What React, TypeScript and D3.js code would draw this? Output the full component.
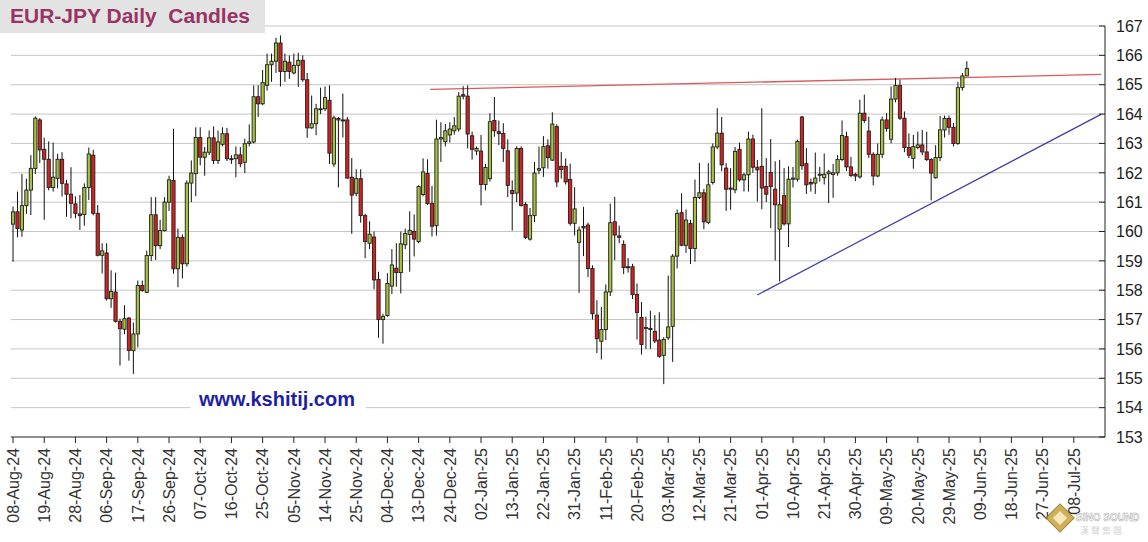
import React from "react";
import * as d3 from "d3";

// ---- Data (daily OHLC, one candle per weekday starting 08-Aug-24) ----
const opens = [
  160.25,160.67,160.05,160.88,161.41,162.15,163.80,162.80,162.46,161.50,
  161.81,162.46,161.62,161.27,160.94,160.60,160.58,161.50,162.60,160.62,
  159.19,159.27,157.71,157.94,156.94,156.67,157.05,155.94,156.51,158.16,
  157.93,159.18,160.57,159.52,160.03,161.00,161.74,158.73,159.80,158.90,
  161.65,161.97,163.20,162.53,162.70,163.19,162.42,162.97,163.33,162.48,
  162.48,162.61,162.36,163.00,163.05,164.59,164.35,164.98,165.68,165.80,
  166.42,165.45,165.77,165.40,165.66,165.83,165.17,163.53,163.67,164.18,
  164.18,164.47,162.30,163.85,163.80,163.80,161.85,161.30,161.80,160.54,
  159.60,159.81,158.37,157.00,157.14,158.14,158.75,158.60,159.55,159.90,
  160.00,159.66,161.26,161.98,160.95,160.20,163.15,163.06,163.29,163.43,
  163.49,164.66,164.61,163.26,162.74,162.74,161.60,161.80,163.78,163.40,
  163.34,162.75,161.40,161.31,162.83,160.92,159.74,160.54,162.09,162.17,
  162.92,162.43,163.57,162.22,162.22,161.77,160.28,159.63,160.17,160.22,
  158.74,157.15,156.26,156.66,157.94,160.33,159.85,159.56,158.80,158.80,
  157.85,157.07,156.70,156.70,156.60,156.30,155.78,156.38,156.77,159.16,
  160.64,159.53,160.27,159.42,161.16,161.32,160.31,161.67,162.88,163.35,
  162.16,161.48,161.42,162.80,161.76,161.93,163.15,162.19,162.22,161.53,
  162.01,161.44,160.08,161.22,160.26,161.78,161.78,163.90,162.31,161.67,
  161.65,161.93,161.83,161.97,161.94,162.00,162.45,163.23,162.20,161.95,
  161.86,164.03,163.42,162.63,161.89,162.63,163.80,163.14,164.51,164.97,
  163.86,162.86,162.49,162.86,162.95,162.71,162.45,161.83,162.52,
  163.46,163.85,163.55,163.00,164.90,165.30,
];
const highs = [
  160.85,161.36,161.96,161.80,162.60,163.92,163.86,163.20,163.07,163.03,
  162.65,162.70,161.76,162.19,161.20,161.24,161.64,162.86,162.78,160.90,
  159.60,159.60,158.68,158.60,157.03,157.49,157.09,156.90,158.33,158.33,
  159.35,161.17,161.17,160.40,161.17,161.90,163.50,160.10,159.90,161.74,
  162.42,163.55,163.55,162.88,163.44,163.58,163.44,163.55,163.53,162.60,
  162.90,162.88,163.16,163.65,164.98,164.98,165.50,166.06,166.06,166.60,
  166.68,166.06,166.00,166.06,166.09,166.00,165.40,164.63,164.35,164.90,
  164.94,164.98,163.95,163.90,164.70,163.90,162.50,162.12,162.12,160.60,
  160.35,160.00,158.63,157.20,158.58,159.40,159.60,160.00,160.10,160.69,
  160.58,161.57,162.49,162.46,161.55,163.81,163.72,163.66,163.72,163.90,
  164.75,164.95,164.98,163.40,162.90,163.29,162.30,164.03,164.58,163.78,
  163.69,163.14,161.74,162.90,162.90,161.00,160.80,162.37,162.89,163.25,
  163.14,164.06,163.65,162.71,162.49,162.31,161.51,160.17,160.84,160.30,
  158.85,157.66,157.43,158.20,160.95,161.18,160.20,159.70,159.10,158.90,
  158.23,157.60,157.10,157.30,157.15,157.25,156.40,158.50,159.23,160.75,
  161.30,160.75,160.40,161.77,162.34,161.45,162.33,163.00,164.20,163.90,
  162.33,162.16,162.88,163.03,162.00,163.40,163.30,162.44,164.20,162.50,
  163.15,162.39,162.44,162.16,162.22,162.20,163.13,163.94,162.84,161.80,
  162.69,162.20,162.66,162.10,162.30,162.60,163.78,163.40,162.54,162.00,
  164.49,164.66,163.91,162.70,163.00,163.91,164.03,164.94,165.23,165.17,
  164.09,163.34,163.29,163.40,163.46,163.40,162.50,162.94,163.94,
  163.95,163.95,163.70,165.10,165.40,165.80,
];
const lows = [
  158.97,159.80,159.82,160.60,160.56,161.96,162.33,160.40,161.40,161.36,
  161.47,161.19,160.50,160.45,160.45,160.05,160.20,161.07,160.55,159.15,
  158.57,157.65,157.40,156.90,155.43,156.50,155.60,155.15,156.05,157.95,
  157.90,159.00,159.03,159.40,160.00,160.70,158.56,158.10,158.40,158.80,
  161.00,161.20,162.25,161.90,162.60,162.30,162.30,162.90,162.40,162.30,
  161.85,162.19,161.99,162.90,163.00,163.90,164.30,164.80,165.10,165.40,
  164.94,165.10,165.20,165.35,164.93,165.10,163.19,163.50,163.28,164.00,
  164.10,162.30,162.20,161.50,163.20,161.80,159.92,161.20,160.30,159.09,
  159.40,158.03,156.38,156.18,157.10,157.87,158.12,157.89,159.40,158.63,
  159.15,159.60,161.20,160.90,159.83,159.86,162.37,162.90,163.03,163.30,
  163.40,164.50,162.83,162.45,162.60,160.89,161.40,161.70,163.23,162.94,
  162.37,161.17,160.03,161.00,160.85,159.74,159.69,160.32,161.95,161.86,
  162.14,162.40,161.51,161.80,161.60,160.20,159.86,157.91,159.16,158.45,
  157.00,155.86,155.64,156.30,157.80,159.02,159.60,158.55,158.60,157.70,
  156.32,155.81,156.00,156.00,156.20,155.70,154.80,156.30,155.56,158.74,
  159.50,159.27,158.89,158.97,161.10,160.08,160.25,161.60,162.80,162.05,
  160.70,160.74,161.30,161.70,161.36,161.36,162.00,161.02,160.76,161.00,
  160.11,159.01,158.30,160.20,159.47,161.50,161.70,162.10,161.28,161.36,
  161.28,161.70,161.60,160.97,161.15,161.90,162.40,162.06,161.85,161.72,
  161.80,163.70,162.50,161.57,161.85,162.50,163.40,163.00,164.40,163.80,
  162.70,162.50,162.14,162.80,162.60,162.40,161.06,161.80,162.40,
  163.20,163.30,162.90,162.95,164.80,165.30,
];
const closes = [
  160.67,160.10,160.88,161.41,162.15,163.86,162.78,162.46,161.50,161.85,
  162.46,161.64,161.27,160.96,160.62,160.54,161.50,162.64,160.62,159.19,
  159.34,157.71,157.96,156.94,156.69,157.03,155.95,156.51,158.16,157.99,
  159.18,160.57,159.52,160.03,161.00,161.76,158.73,159.80,158.90,161.65,
  161.99,163.20,162.53,162.70,163.19,162.42,163.05,163.33,162.48,162.45,
  162.61,162.31,162.99,163.05,164.59,164.35,165.07,165.68,165.80,166.42,
  165.45,165.80,165.45,165.66,165.83,165.17,163.53,163.67,164.18,164.15,
  164.56,162.67,163.87,163.80,163.77,161.82,161.24,161.80,160.54,159.66,
  159.91,158.35,157.00,157.11,158.23,158.86,158.60,159.58,159.93,160.04,
  159.74,161.53,162.03,160.95,160.18,163.15,163.20,163.43,163.49,163.60,
  164.61,164.61,163.32,162.80,162.83,161.60,162.18,163.74,163.43,163.34,
  162.83,161.57,161.29,162.83,160.89,159.80,160.54,161.99,162.14,162.89,
  162.52,163.66,161.69,162.11,161.69,160.28,160.77,160.05,160.12,158.74,
  157.20,156.35,156.66,157.94,160.30,159.88,159.80,158.77,158.77,157.85,
  157.24,156.15,156.73,156.66,156.27,155.75,156.32,156.75,159.16,160.61,
  159.53,160.39,159.42,161.16,161.32,160.33,161.59,162.88,163.35,162.27,
  161.44,161.44,162.73,161.76,161.93,163.15,162.19,162.10,161.48,161.27,
  161.53,160.91,160.91,160.26,161.78,161.82,163.07,162.24,161.59,161.62,
  161.82,161.95,161.95,162.03,162.00,162.45,163.27,162.20,161.91,161.89,
  164.03,163.78,162.63,161.89,162.63,163.80,163.51,164.51,164.97,163.86,
  162.86,162.60,162.89,162.95,162.71,162.45,161.99,162.52,163.46,
  163.85,163.55,163.00,164.90,165.30,165.55,
];

// tick labels, one every 7 weekdays
const tickLabels = [
  "08-Aug-24","19-Aug-24","28-Aug-24","06-Sep-24","17-Sep-24","26-Sep-24",
  "07-Oct-24","16-Oct-24","25-Oct-24","05-Nov-24","14-Nov-24","25-Nov-24",
  "04-Dec-24","13-Dec-24","24-Dec-24","02-Jan-25","13-Jan-25","22-Jan-25",
  "31-Jan-25","11-Feb-25","20-Feb-25","03-Mar-25","12-Mar-25","21-Mar-25",
  "01-Apr-25","10-Apr-25","21-Apr-25","30-Apr-25","09-May-25","20-May-25",
  "29-May-25","09-Jun-25","18-Jun-25","27-Jun-25","08-Jul-25",
];
const tickStep = 7;
const yTicks = [153,154,155,156,157,158,159,160,161,162,163,164,165,166,167];

// trend lines (weekday index, price)
const resistanceLine = [{ i: 93.6, v: 164.84 }, { i: 244.1, v: 165.35 }];
const supportLine = [{ i: 167, v: 157.84 }, { i: 244.1, v: 163.99 }];

const FONT = "'Liberation Sans', Arial, Helvetica, sans-serif";

export default function App() {
  const W = 1148, H = 542;
  const x = d3.scaleLinear().domain([-0.5, 245]).range([10.8, 1105]);
  const y = d3.scaleLinear().domain([153, 167]).range([437, 26]);
  const xLeft = x(-0.5), xRight = x(245);
  const bodyW = 3.2;
  const line = d3.line<{ i: number; v: number }>().x(d => x(d.i)).y(d => y(d.v));

  const candles = opens.map((o, i) => ({ i, o, h: highs[i], l: lows[i], c: closes[i] }));

  return (
    <svg width={W} height={H} style={{ position: "absolute", left: 0, top: 0, background: "#fff" }}
      fontFamily={FONT}>
      <rect x={0} y={0} width={W} height={H} fill="#fff" />
      {/* grid */}
      {yTicks.slice(1).map(t => (
        <line key={t} x1={xLeft} x2={xRight} y1={y(t)} y2={y(t)} stroke="#c6c6c6" strokeWidth={1} />
      ))}
      {/* website */}
      <rect x={190} y={386} width={176} height={26} fill="#fff" />
      <text x={199} y={406} fontSize={20} fontWeight="bold" fill="#1e1ea6">www.kshitij.com</text>

      {/* trend lines */}
      <path d={line(resistanceLine) || ""} stroke="#dc5a5a" strokeWidth={1.3} fill="none" />
      <path d={line(supportLine) || ""} stroke="#3c3ca8" strokeWidth={1.2} fill="none" />

      {/* candles */}
      {candles.map(d => {
        const up = d.c >= d.o;
        const cx = x(d.i);
        const top = y(Math.max(d.o, d.c));
        const bot = y(Math.min(d.o, d.c));
        return (
          <g key={d.i}>
            <line x1={cx} x2={cx} y1={y(d.h)} y2={y(d.l)} stroke="#111" strokeWidth={1} />
            <rect x={cx - bodyW / 2} y={top} width={bodyW} height={Math.max(bot - top, 1)}
              fill={up ? "#a6c23e" : "#d92020"} stroke="#1e1e1e" strokeWidth={0.9} />
          </g>
        );
      })}

      {/* axes */}
      <line x1={xRight} x2={xRight} y1={y(167)} y2={y(153)} stroke="#222" strokeWidth={1} />
      <line x1={xLeft} x2={xRight} y1={y(153)} y2={y(153)} stroke="#222" strokeWidth={1} />
      {yTicks.map(t => (
        <g key={t}>
          <line x1={xRight - 6} x2={xRight} y1={y(t)} y2={y(t)} stroke="#222" />
          <text x={xRight + 11} y={y(t)} dy="0.36em" fontSize={16} fill="#222">{t}</text>
        </g>
      ))}
      {tickLabels.map((lab, k) => {
        const tx = x(k * tickStep);
        return (
          <g key={lab}>
            <line x1={tx} x2={tx} y1={y(153)} y2={y(153) + 6} stroke="#222" />
            <text transform={`translate(${tx},${y(153) + 11}) rotate(-90)`} textAnchor="end"
              dy="0.36em" fontSize={16} fill="#333">{lab}</text>
          </g>
        );
      })}

      {/* title */}
      <rect x={0} y={0} width={265} height={33} fill="#e3e3e3" />
      <text x={10} y={23} fontSize={21} fontWeight="bold" fill="#993366"
        style={{ whiteSpace: "pre" }} xmlSpace="preserve">{"EUR-JPY Daily  Candles"}</text>

      {/* watermark */}
      <g opacity={0.85}>
        <rect x={1050} y={508} width={20} height={20} transform="rotate(45 1060 518)" fill="#c9a23a" stroke="#8a6d1e" />
        <rect x={1055} y={513} width={10} height={10} transform="rotate(45 1060 518)" fill="#f3e6b0" />
        <text x={1076} y={521} fontSize={10} fontWeight="bold" fill="#fff" stroke="#9a9a9a" strokeWidth={0.5}>SINO SOUND</text>
        <text x={1080} y={534} fontSize={9} fill="#d0d0d0" fontFamily="'Noto Sans CJK TC', sans-serif">漢 聲 集 團</text>
      </g>
    </svg>
  );
}
